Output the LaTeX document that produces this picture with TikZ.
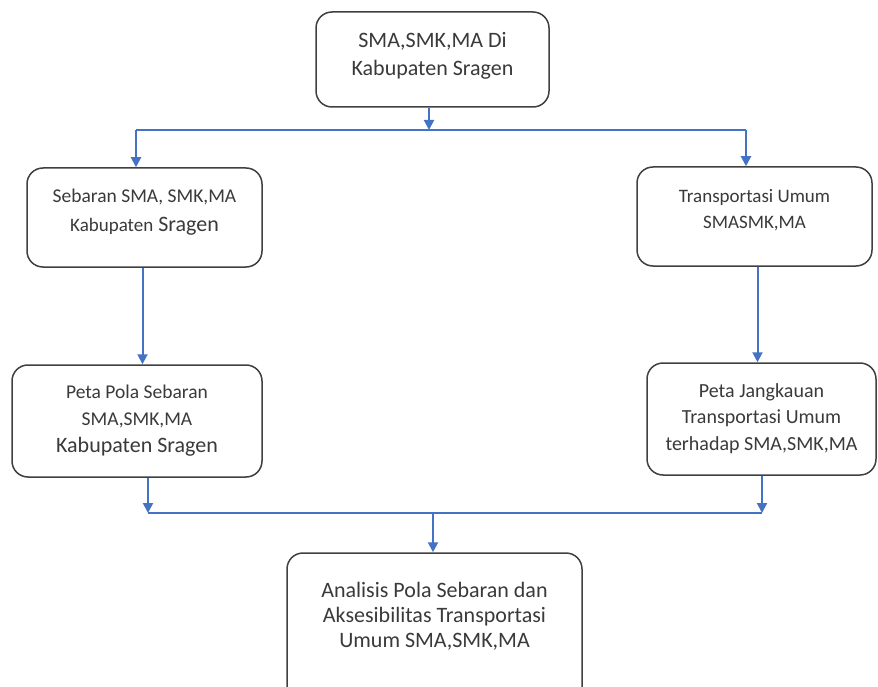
\documentclass[tikz,border=0pt]{standalone}
\usepackage{fontspec}
\setmainfont{Carlito}
\usetikzlibrary{arrows.meta,calc}
\definecolor{boxline}{HTML}{404040}
\definecolor{txtcol}{HTML}{3A3A3A}
\definecolor{flow}{HTML}{4472C4}
\tikzset{
  box/.style={draw=boxline, line width=1.5pt, rounded corners=16pt, fill=white},
  txt/.style={text=txtcol, align=center, inner sep=0pt},
  flowline/.style={draw=flow, line width=2pt},
  flowarr/.style={draw=flow, line width=2pt, -{Triangle[width=10pt,length=10pt]}}
}
\begin{document}
\begin{tikzpicture}[x=1pt,y=-1pt]
\useasboundingbox (0,0) rectangle (878,687);
\clip (0,0) rectangle (878,687);
% boxes
\node[box, minimum width=233pt, minimum height=95pt] (top) at (432.5,59.5) {};
\node[box, minimum width=235pt, minimum height=99pt] (L1) at (144.5,217.5) {};
\node[box, minimum width=235pt, minimum height=99pt] (R1) at (754.5,216.5) {};
\node[box, minimum width=250pt, minimum height=112pt] (L2) at (137,421) {};
\node[box, minimum width=229pt, minimum height=112pt] (R2) at (761.5,419) {};
\node[box, minimum width=295pt, minimum height=150pt] (bot) at (434.5,628) {};
% texts
\node[txt, font=\fontsize{22}{28}\selectfont] (topt) at (432.5,56) {SMA,SMK,MA Di\\Kabupaten Sragen};
\node[txt, font=\fontsize{22}{29}\selectfont] (L1t) at (144.5,212) {{\fontsize{19.5}{29}\selectfont Sebaran SMA, SMK,MA}\\{\fontsize{19}{29}\selectfont Kabupaten} Sragen};
\node[txt, font=\fontsize{19}{26.5}\selectfont] (R1t) at (754.5,210) {Transportasi Umum\\SMASMK,MA};
\node[txt, font=\fontsize{22}{27}\selectfont] (L2t) at (137,421) {{\fontsize{19.5}{26}\selectfont Peta Pola Sebaran}\\{\fontsize{19.5}{27}\selectfont SMA,SMK,MA}\\Kabupaten Sragen};
\node[txt, font=\fontsize{20}{26.5}\selectfont] (R2t) at (761.5,418.5) {Peta Jangkauan\\Transportasi Umum\\terhadap SMA,SMK,MA};
\node[txt, font=\fontsize{22}{25}\selectfont] (bott) at (434.5,616) {Analisis Pola Sebaran dan\\Aksesibilitas Transportasi\\Umum SMA,SMK,MA};
% bus coordinates
\coordinate (t0) at (429,130);
\coordinate (tl) at (136,130);
\coordinate (tr) at (746,130);
\coordinate (b1) at (148,513);
\coordinate (b2) at (762,513);
\coordinate (b3) at (433,513);
% connectors
\draw[flowarr] (top.south -| t0) -- (t0);
\draw[flowline] (tl) -- (tr);
\draw[flowarr] (tl) -- (tl |- L1.north);
\draw[flowarr] (tr) -- (tr |- R1.north);
\draw[flowarr] ([xshift=-2pt]L1.south) -- ([xshift=-2pt]L1.south |- L2.north);
\draw[flowarr] ([xshift=3pt]R1.south) -- ([xshift=3pt]R1.south |- R2.north);
\draw[flowarr] (L2.south -| b1) -- (b1);
\draw[flowarr] (R2.south -| b2) -- (b2);
\draw[flowline] (b1) -- (b2);
\draw[flowarr] (b3) -- (b3 |- bot.north);
\end{tikzpicture}
\end{document}
